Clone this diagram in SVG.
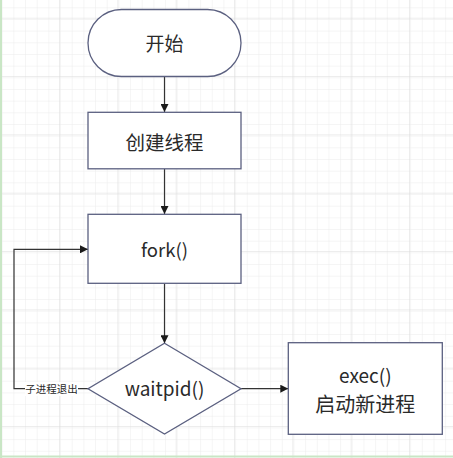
<svg xmlns="http://www.w3.org/2000/svg" width="453" height="458" viewBox="0 0 453 458">
<defs>
<pattern id="minor" x="1.7" y="7.3" width="11.67" height="11.67" patternUnits="userSpaceOnUse">
<path d="M0 0H11.67M0 0V11.67" fill="none" stroke="#ebebeb" stroke-width="1"/>
</pattern>
<pattern id="major" x="0.7" y="17.7" width="58.33" height="58.33" patternUnits="userSpaceOnUse">
<path d="M0 0H58.33M0 0V58.33" fill="none" stroke="#dcdcdc" stroke-width="1"/>
</pattern>
<marker id="arr" viewBox="0 0 10 10" refX="10" refY="5" markerWidth="8" markerHeight="8" markerUnits="userSpaceOnUse" orient="auto">
<path d="M0 0L10 5L0 10Z" fill="#1a1a1a"/>
</marker>
</defs>
<style>
.shape{fill:#ffffff;stroke:#5b6080;stroke-width:1.3}
.t{font-family:"Noto Sans CJK SC","Microsoft YaHei",sans-serif;fill:#2a2a2a;text-anchor:middle}
.edge{fill:none;stroke:#333333;stroke-width:1.2}
</style>
<rect width="453" height="458" fill="#ffffff"/>
<rect width="453" height="458" fill="url(#minor)"/>
<rect width="453" height="458" fill="url(#major)"/>
<line x1="1" y1="0" x2="1" y2="458" stroke="#c9e6c5" stroke-width="2"/>
<line x1="0" y1="456.5" x2="453" y2="456.5" stroke="#c9e6c5" stroke-width="2"/>

<g id="connectors">
<path class="edge" d="M164.5 76.5V112" marker-end="url(#arr)"/>
<path class="edge" d="M164.5 169V214" marker-end="url(#arr)"/>
<path class="edge" d="M164.5 283.5V343.3" marker-end="url(#arr)"/>
<path class="edge" d="M241 388.7H288.3" marker-end="url(#arr)"/>
<path class="edge" d="M88 388.7H14V249.3H88" marker-end="url(#arr)"/>
<rect x="25" y="382" width="53" height="14" fill="#ffffff"/>
<text class="t" x="51.5" y="392.5" font-size="10.5" fill="#1a1a1a">子进程退出</text>
</g>

<g id="start">
<rect class="shape" x="88" y="9.5" width="153" height="67" rx="33.5" ry="33.5"/>
<text class="t" x="164.5" y="51" font-size="19">开始</text>
</g>
<g id="create">
<rect class="shape" x="88" y="112.3" width="153" height="56.5"/>
<text class="t" x="164.5" y="149.5" font-size="19.5">创建线程</text>
</g>
<g id="fork">
<rect class="shape" x="88" y="214.3" width="153" height="69"/>
<text class="t" x="164.5" y="257" font-size="18.5">fork()</text>
</g>
<g id="waitpid">
<polygon class="shape" points="164.5,343.3 241,388.7 164.5,434 88,388.7"/>
<text class="t" x="164.5" y="396" font-size="19">waitpid()</text>
</g>
<g id="exec">
<rect class="shape" x="288.3" y="342.7" width="154" height="91.6"/>
<text class="t" x="365.3" y="383" font-size="19">exec()</text>
<text class="t" x="365.3" y="412" font-size="20">启动新进程</text>
</g>
</svg>
